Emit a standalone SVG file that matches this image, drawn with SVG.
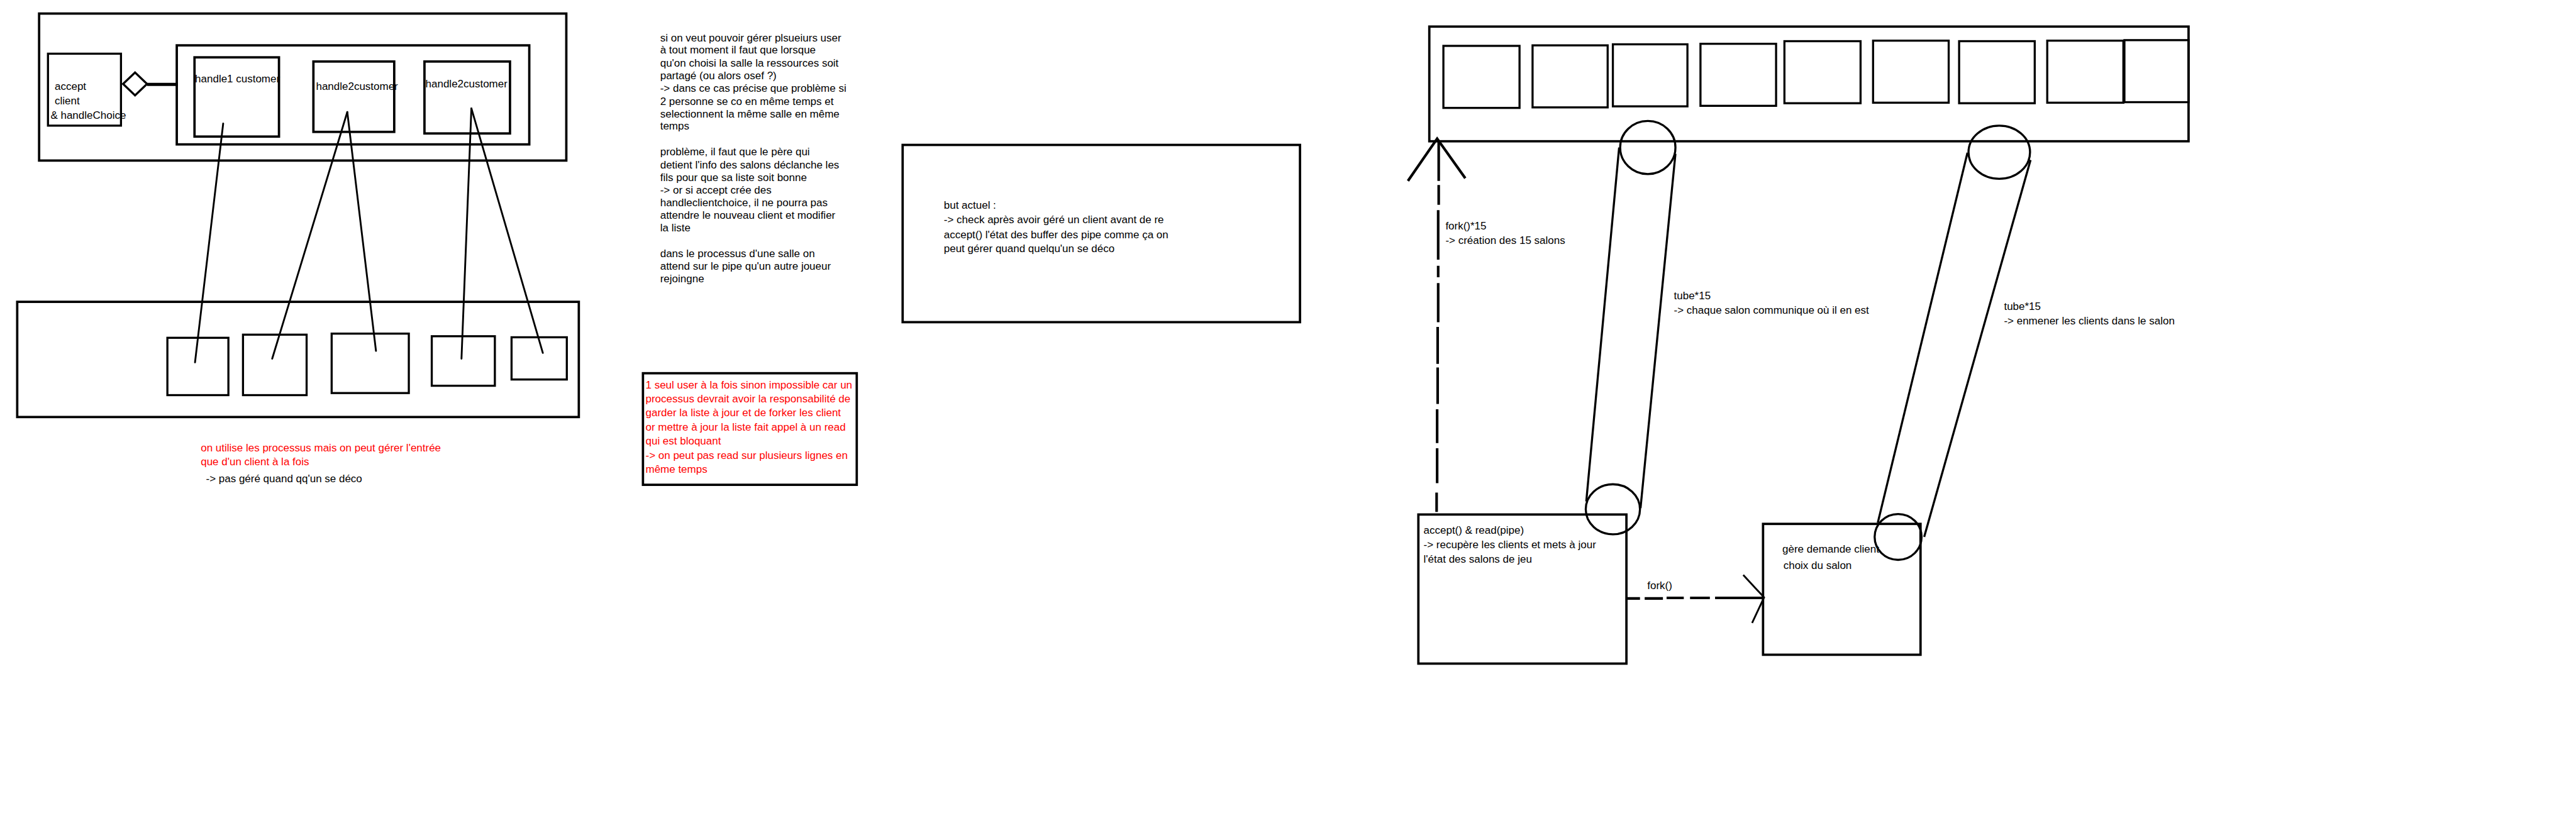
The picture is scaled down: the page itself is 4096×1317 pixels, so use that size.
<svg xmlns="http://www.w3.org/2000/svg" width="4096" height="1317" viewBox="0 0 4096 1317">
<style>
.b{fill:none;stroke:#000;stroke-width:4.5}
.bt{fill:none;stroke:#000;stroke-width:4}
.ln{fill:none;stroke:#000;stroke-width:3.5;stroke-linecap:round}
.t{font-family:"Liberation Sans",Arial,sans-serif;font-size:20.5px;fill:#000}
.r{fill:#ff0000}
</style>
<rect width="4096" height="1317" fill="#fff"/>
<g transform="scale(0.82915)">
<g id="server-outer"><rect class="b" x="75" y="26" width="1011" height="282" stroke-width="5"/></g>
<g id="accept-client"><rect class="bt" x="92" y="103" width="140" height="138"/>
<text class="t" x="105" y="172">accept</text><text class="t" x="105" y="200">client</text><text class="t" x="97" y="228">&amp; handleChoice</text></g>
<g id="handlers"><rect class="b" x="339" y="87" width="676" height="190" stroke-width="5"/></g>
<g id="handle1"><rect class="b" x="373" y="110" width="162" height="152"/><text class="t" x="374" y="158" font-size="20">handle1 customer</text></g>
<g id="handle2a"><rect class="b" x="601" y="118" width="155" height="135"/><text class="t" x="606" y="173" font-size="20">handle2customer</text></g>
<g id="handle2b"><rect class="b" x="814" y="118" width="164" height="138"/><text class="t" x="816" y="168" font-size="20">handle2customer</text></g>
<g id="rooms-left"><rect class="b" x="33" y="579" width="1077" height="221"/>
<rect class="bt" x="321" y="648" width="117" height="110"/>
<rect class="bt" x="466" y="642" width="122" height="116"/>
<rect class="bt" x="636" y="640" width="148" height="114"/>
<rect class="bt" x="828" y="645" width="121" height="95"/>
<rect class="bt" x="981" y="647" width="106" height="81"/></g>
<g id="note-left"><text class="t r" x="385" y="866">on utilise les processus mais on peut gérer l'entrée</text>
<text class="t r" x="385" y="893">que d'un client à la fois</text>
<text class="t" x="395" y="925">-&gt; pas géré quand qq'un se déco</text></g>
<g id="note-middle">
<text class="t" x="1266" y="79">si on veut pouvoir gérer plsueiurs user</text>
<text class="t" x="1266" y="103">à tout moment il faut que lorsque</text>
<text class="t" x="1266" y="128">qu'on choisi la salle la ressources soit</text>
<text class="t" x="1266" y="152">partagé (ou alors osef ?)</text>
<text class="t" x="1266" y="176">-&gt; dans ce cas précise que problème si</text>
<text class="t" x="1266" y="201">2 personne se co en même temps et</text>
<text class="t" x="1266" y="225">selectionnent la même salle en même</text>
<text class="t" x="1266" y="249">temps</text>
<text class="t" x="1266" y="298">problème, il faut que le père qui</text>
<text class="t" x="1266" y="323">detient l'info des salons déclanche les</text>
<text class="t" x="1266" y="347">fils pour que sa liste soit bonne</text>
<text class="t" x="1266" y="371">-&gt; or si accept crée des</text>
<text class="t" x="1266" y="396">handleclientchoice, il ne pourra pas</text>
<text class="t" x="1266" y="420">attendre le nouveau client et modifier</text>
<text class="t" x="1266" y="444">la liste</text>
<text class="t" x="1266" y="493">dans le processus d'une salle on</text>
<text class="t" x="1266" y="518">attend sur le pipe qu'un autre joueur</text>
<text class="t" x="1266" y="542">rejoingne</text></g>
<g id="note-red"><rect class="b" x="1233" y="716" width="410" height="214" stroke-width="5"/>
<text class="t r" x="1238" y="745">1 seul user à la fois sinon impossible car un</text>
<text class="t r" x="1238" y="772">processus devrait avoir la responsabilité de</text>
<text class="t r" x="1238" y="799">garder la liste à jour et de forker les client</text>
<text class="t r" x="1238" y="826">or mettre à jour la liste fait appel à un read</text>
<text class="t r" x="1238" y="853">qui est bloquant</text>
<text class="t r" x="1238" y="880">-&gt; on peut pas read sur plusieurs lignes en</text>
<text class="t r" x="1238" y="907">même temps</text></g>
<g id="goal"><rect class="b" x="1731" y="278" width="762" height="340"/>
<text class="t" x="1810" y="400">but actuel :</text>
<text class="t" x="1810" y="428">-&gt; check après avoir géré un client avant de re</text>
<text class="t" x="1810" y="457">accept() l'état des buffer des pipe comme ça on</text>
<text class="t" x="1810" y="484">peut gérer quand quelqu'un se déco</text></g>
<g id="salons"><rect class="b" x="2741" y="51" width="1456" height="220"/>
<rect class="bt" x="2768" y="88" width="146" height="119"/>
<rect class="bt" x="2939" y="87" width="144" height="119"/>
<rect class="bt" x="3093" y="85" width="143" height="119"/>
<rect class="bt" x="3261" y="84" width="145" height="119"/>
<rect class="bt" x="3422" y="79" width="146" height="119"/>
<rect class="bt" x="3592" y="78" width="145" height="119"/>
<rect class="bt" x="3757" y="79" width="145" height="119"/>
<rect class="bt" x="3926" y="78" width="146" height="119"/>
<rect class="bt" x="4074" y="77" width="123" height="119"/></g>
<g id="main-process"><rect class="b" x="2720" y="987" width="399" height="286"/>
<text class="t" x="2730" y="1024">accept() &amp; read(pipe)</text>
<text class="t" x="2730" y="1052">-&gt; recupère les clients et mets à jour</text>
<text class="t" x="2730" y="1080">l'état des salons de jeu</text></g>
<g id="choice-process"><rect class="b" x="3381" y="1005" width="302" height="251"/>
<text class="t" x="3418" y="1060">gère demande client</text>
<text class="t" x="3420" y="1092">choix du salon</text></g>
<g id="connectors">
<polygon points="236,161 259,139 282,161 259,183" fill="#fff" stroke="#000" stroke-width="4"/>
<line x1="282" y1="162" x2="341" y2="162" stroke="#000" stroke-width="6"/>
<line class="ln" x1="428" y1="237" x2="374" y2="695"/>
<line class="ln" x1="666" y1="215" x2="522" y2="688"/>
<line class="ln" x1="666" y1="215" x2="721" y2="673"/>
<line class="ln" x1="904" y1="208" x2="885" y2="688"/>
<line class="ln" x1="904" y1="208" x2="1041" y2="677"/>
<path d="M2759 272V347M2759 355V393M2758 403V498M2758 510V532M2758 543V618M2757 627V698M2757 705V775M2756 785V850M2756 860V927M2755 945V982" fill="none" stroke="#000" stroke-width="5"/>
<polyline points="2700,347 2756,266 2810,342" fill="none" stroke="#000" stroke-width="5"/>
<text class="t" x="2772" y="440">fork()*15</text>
<text class="t" x="2772" y="468">-&gt; création des 15 salons</text>
<ellipse class="bt" cx="3160" cy="283" rx="53" ry="51"/>
<line class="bt" x1="3105" y1="283" x2="3042" y2="962"/>
<line class="bt" x1="3213" y1="295" x2="3146" y2="975"/>
<ellipse class="bt" cx="3093" cy="977" rx="52" ry="48"/>
<text class="t" x="3210" y="574">tube*15</text>
<text class="t" x="3210" y="602">-&gt; chaque salon communique où il en est</text>
<ellipse class="bt" cx="3834" cy="292" rx="59" ry="51"/>
<line class="bt" x1="3773" y1="293" x2="3601" y2="1003"/>
<line class="bt" x1="3894" y1="307" x2="3690" y2="1030"/>
<ellipse class="bt" cx="3640" cy="1030" rx="45" ry="44"/>
<text class="t" x="3843" y="594">tube*15</text>
<text class="t" x="3843" y="622">-&gt; enmener les clients dans le salon</text>
<path d="M3121 1148H3145M3154 1148H3189M3196 1147H3229M3241 1147H3279M3289 1147H3383" fill="none" stroke="#000" stroke-width="5"/>
<polyline points="3343,1103 3383,1146 3360,1195" fill="none" stroke="#000" stroke-width="3.5"/>
<text class="t" x="3159" y="1130">fork()</text>
</g>
</g>
</svg>
